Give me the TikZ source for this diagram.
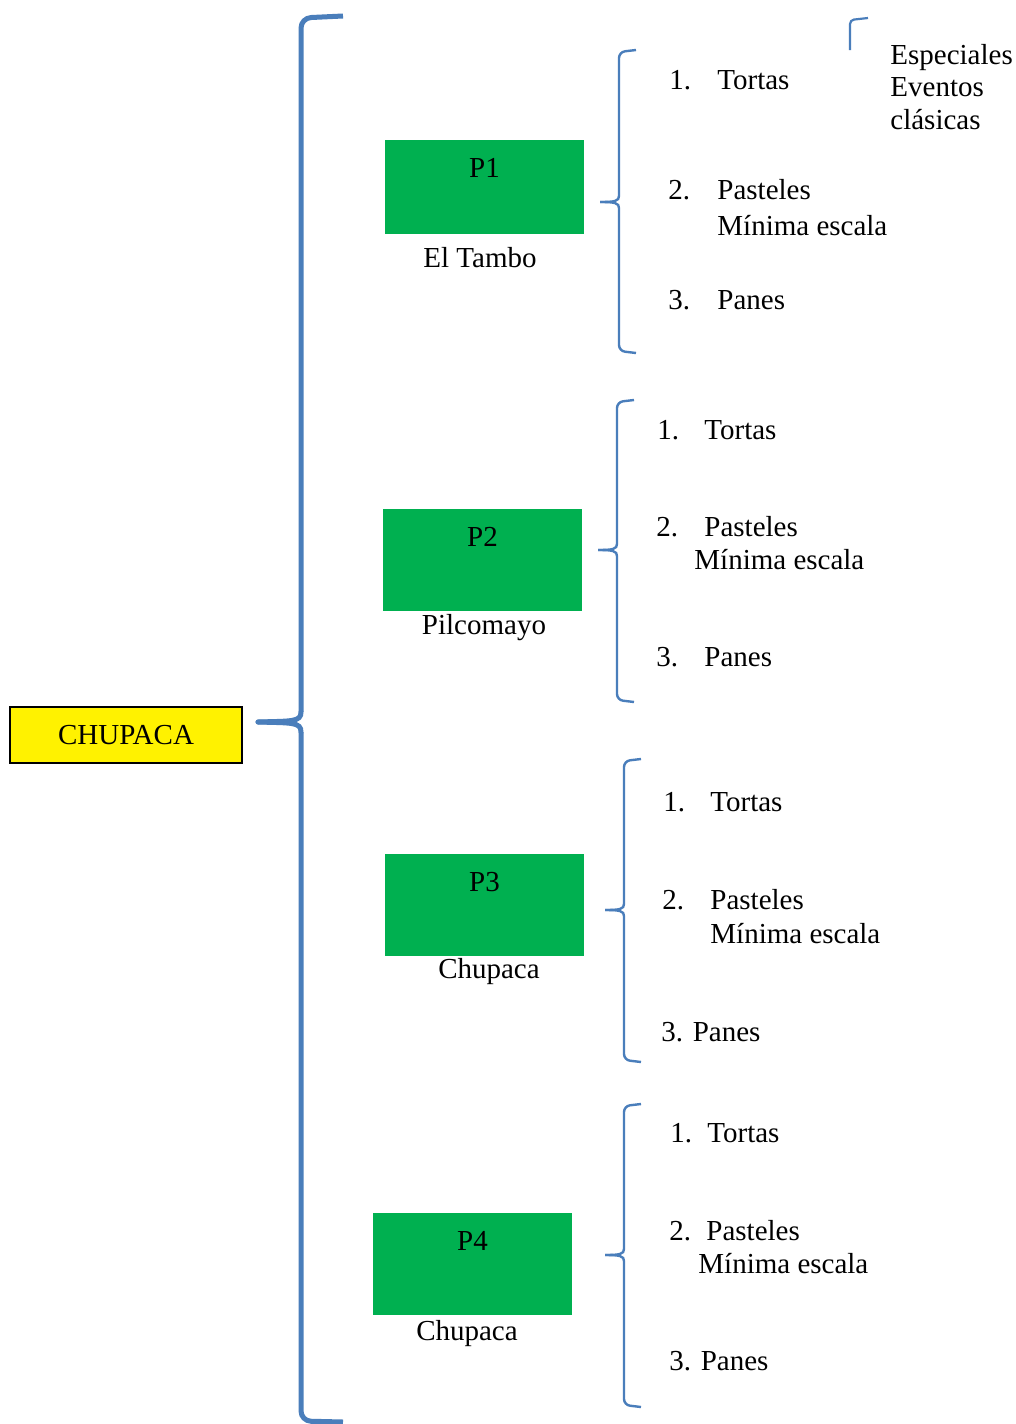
\documentclass[tikz,border=0pt]{standalone}
\usepackage{fontspec}
\setmainfont{Liberation Serif}
\definecolor{bracecol}{RGB}{74,126,187}
\definecolor{boxgreen}{RGB}{0,176,80}
\begin{document}
\begin{tikzpicture}[x=0.5pt,y=-0.5pt,
  every node/.style={font=\fontsize{14.5}{16.5}\selectfont, inner sep=0pt, text height=0.95em, text depth=0em},
  bigbrace/.style={draw=bracecol, line width=2.5pt, rounded corners=5pt},
  smallbrace/.style={draw=bracecol, line width=1.2pt, rounded corners=3pt},
  gbox/.style={fill=boxgreen, draw=none},
  item/.style={anchor=west},
  mline/.style={anchor=west, align=left}]
\useasboundingbox (0,0) rectangle (1016,1424);
\fill[white] (0,0) rectangle (1016,1424);

% root
\node[draw=black, line width=1pt, fill=yellow, minimum width=116pt, minimum height=28pt] (root) at (126,735) {CHUPACA};

% big brace
\coordinate (btip) at (258,722);
\draw[bigbrace] (343,16) -- (301,18) -- (301,712);
\draw[draw=bracecol, line width=2.5pt, line cap=round] (btip) .. controls (292,721) and (301,722) .. (301,712);
\draw[draw=bracecol, line width=2.5pt, line cap=round] (btip) .. controls (292,723) and (301,722) .. (301,732);
\draw[bigbrace] (301,732) -- (301,1421) -- (343,1422);

% green boxes
\fill[gbox] (385,140) rectangle (584,234);
\node (p1) at (484.5,168) {P1};
\node (l1) at (480,258) {El Tambo};
\fill[gbox] (383,509) rectangle (582,611);
\node (p2) at (482.5,537) {P2};
\node (l2) at (484,625) {Pilcomayo};
\fill[gbox] (385,854) rectangle (584,956);
\node (p3) at (484.5,882) {P3};
\node (l3) at (489,969) {Chupaca};
\fill[gbox] (373,1213) rectangle (572,1315);
\node (p4) at (472.5,1241) {P4};
\node (l4) at (467,1331) {Chupaca};

% small braces
\newcommand{\smbrace}[5]{% x, top, mid, bottom, tipx
  \draw[smallbrace] (#1+17,#2) -- (#1,#2+2) -- (#1,#3-6);
  \draw[draw=bracecol, line width=1.2pt] (#1,#3-6) .. controls (#1,#3-1) and (#1-4,#3) .. (#5,#3);
  \draw[draw=bracecol, line width=1.2pt] (#5,#3) .. controls (#1-4,#3) and (#1,#3+1) .. (#1,#3+6);
  \draw[smallbrace] (#1,#3+6) -- (#1,#4-2) -- (#1+17,#4);
}
\smbrace{619}{50}{202}{353}{600}
\smbrace{617}{400}{550}{702}{598}
\smbrace{624}{759}{910}{1062}{605}
\smbrace{624}{1104}{1255}{1407}{605}

% top right corner mark
\draw[draw=bracecol, line width=1.1pt, rounded corners=2pt] (850,50) -- (850,20) -- (868,18);

% group 1
\node[item] (a1n) at (669,80) {1.};
\node[item] (a1) at (717,80) {Tortas};
\node[mline] (a1x) at (890,55) {Especiales};
\node[mline] (a1y) at (890,87) {Eventos};
\node[mline] (a1z) at (890,120) {clásicas};
\node[item] (a2n) at (668,190) {2.};
\node[item] (a2) at (717,190) {Pasteles};
\node[item] (a2b) at (717,226) {Mínima escala};
\node[item] (a3n) at (668,300) {3.};
\node[item] (a3) at (717,300) {Panes};

% group 2
\node[item] (b1n) at (657,430) {1.};
\node[item] (b1) at (704,430) {Tortas};
\node[item] (b2n) at (656,527) {2.};
\node[item] (b2) at (704,527) {Pasteles};
\node[item] (b2b) at (694,560) {Mínima escala};
\node[item] (b3n) at (656,657) {3.};
\node[item] (b3) at (704,657) {Panes};

% group 3
\node[item] (c1n) at (663,802) {1.};
\node[item] (c1) at (710,802) {Tortas};
\node[item] (c2n) at (662,900) {2.};
\node[item] (c2) at (710,900) {Pasteles};
\node[item] (c2b) at (710,934) {Mínima escala};
\node[item] (c3) at (661,1032) {3. Panes};

% group 4
\node[item] (d1n) at (670,1133) {1.};
\node[item] (d1) at (707,1133) {Tortas};
\node[item] (d2n) at (669,1231) {2.};
\node[item] (d2) at (706,1231) {Pasteles};
\node[item] (d2b) at (698,1264) {Mínima escala};
\node[item] (d3) at (669,1361) {3. Panes};
\end{tikzpicture}
\end{document}
